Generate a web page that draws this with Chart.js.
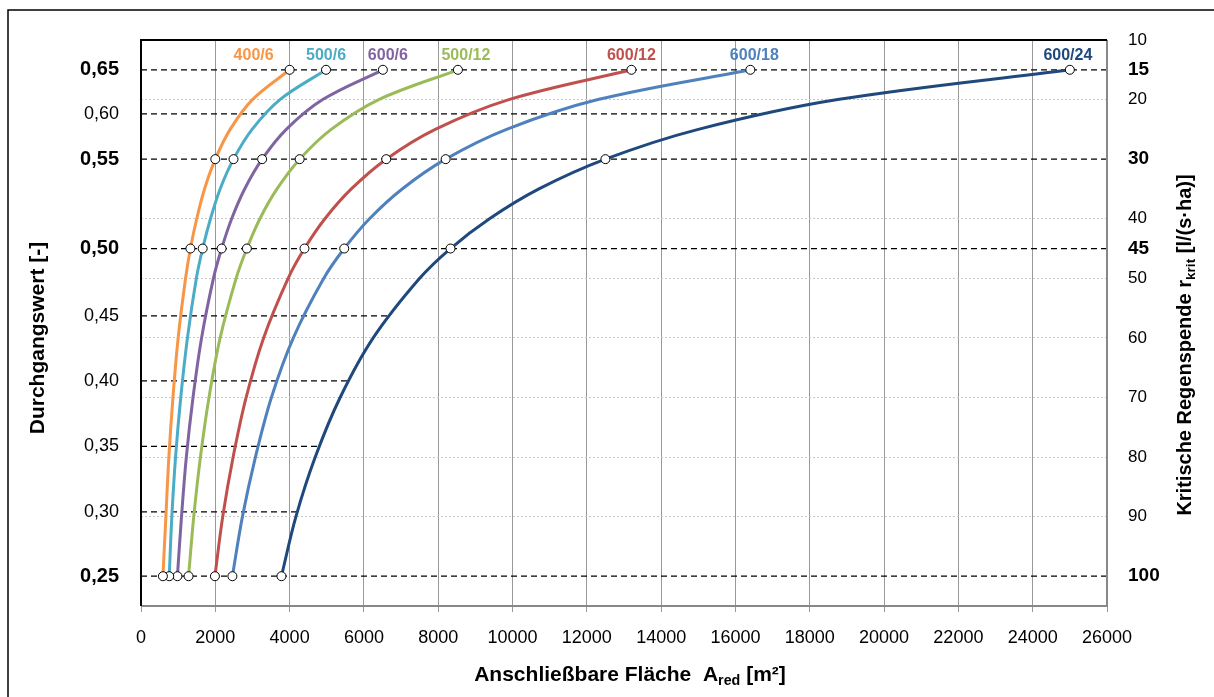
<!DOCTYPE html>
<html>
<head>
<meta charset="utf-8">
<script src="https://cdn.jsdelivr.net/npm/chart.js@4"></script>
<style>
  html, body { margin: 0; padding: 0; background: #fff; }
  #wrap { width: 1214px; height: 697px; }
</style>
</head>
<body>
<div id="wrap"><canvas id="chart" width="1214" height="697"></canvas></div>
<script>
// critical rain intensity r (right axis) used for every curve
const rVals = [15, 20, 25, 30, 35, 40, 45, 50, 60, 70, 80, 90, 100];
const markerR = [15, 30, 45, 100];

// connectable area A_red [m2], one per pipe
const seriesNames = ['400/6', '500/6', '600/6', '500/12', '600/12', '600/18', '600/24'];
const a400_6  = [4000, 3000, 2400, 2000, 1710, 1500, 1330, 1200, 1000, 860, 750, 670, 590];
const a500_6  = [4980, 3740, 2990, 2490, 2130, 1870, 1660, 1490, 1250, 1070, 930, 830, 760];
const a600_6  = [6510, 4890, 3910, 3260, 2790, 2440, 2170, 1950, 1630, 1400, 1220, 1090, 980];
const a500_12 = [8530, 6400, 5120, 4270, 3660, 3200, 2850, 2560, 2130, 1830, 1600, 1420, 1280];
const a600_12 = [13200, 9900, 7920, 6600, 5660, 4950, 4400, 3960, 3300, 2830, 2480, 2200, 1990];
const a600_18 = [16400, 12300, 9840, 8200, 7030, 6150, 5470, 4920, 4100, 3510, 3080, 2730, 2460];
const a600_24 = [25000, 18750, 15000, 12500, 10710, 9380, 8330, 7500, 6250, 5360, 4690, 4170, 3780];
const seriesData = [a400_6, a500_6, a600_6, a500_12, a600_12, a600_18, a600_24];
const seriesColors = ['#F79646', '#4BACC6', '#8064A2', '#9BBB59', '#C0504D', '#4F81BD', '#1F497D'];
const labelShift = [-36, 0, 5, 8, 0, 4, -2];

// Durchgangswert (left axis) and where it sits on the r scale
const dwLabels = ['0,65', '0,60', '0,55', '0,50', '0,45', '0,40', '0,35', '0,30', '0,25'];
const dwR      = [15, 22.4, 30, 45, 56.3, 67.2, 78.2, 89.2, 100];
const dwEnd    = [26000, 16750, 26000, 26000, 6700, 5600, 4820, 4230, 26000];
const dwBold   = ['0,65', '0,55', '0,50', '0,25'];

// right axis ticks
const rTicks = [10, 15, 20, 30, 40, 45, 50, 60, 70, 80, 90, 100];
const rBold  = [15, 30, 45, 100];

const FONT = "'Liberation Sans', Arial, sans-serif";

const datasets = [];
seriesNames.forEach((name, i) => {
    datasets.push({
        label: name,
        data: rVals.map((r, j) => ({ x: seriesData[i][j], y: r })),
        showLine: true,
        borderColor: seriesColors[i],
        borderWidth: 3,
        tension: 0.35,
        pointRadius: rVals.map(r => markerR.includes(r) ? 4.5 : 0),
        pointBackgroundColor: '#fff',
        pointBorderColor: '#000',
        pointBorderWidth: 1,
        yAxisID: 'y',
        order: 1,
        labelShift: labelShift[i],
        seriesLabel: true
    });
});
dwLabels.forEach((lab, i) => {
    datasets.push({
        label: 'dw ' + lab,
        data: [{ x: 0, y: dwR[i] }, { x: dwEnd[i], y: dwR[i] }],
        showLine: true,
        borderColor: '#000',
        borderWidth: 1.3,
        borderDash: [6, 4],
        pointRadius: 0,
        yAxisID: 'y',
        order: 2
    });
});

function drawRich(ctx, parts, size) {
    // parts: [text, isSub]
    let total = 0;
    const widths = parts.map(p => {
        ctx.font = 'bold ' + (p[1] ? size * 0.68 : size) + 'px ' + FONT;
        const w = ctx.measureText(p[0]).width;
        total += w;
        return w;
    });
    let x = -total / 2;
    parts.forEach((p, i) => {
        ctx.font = 'bold ' + (p[1] ? size * 0.68 : size) + 'px ' + FONT;
        ctx.fillText(p[0], x, p[1] ? size * 0.3 : 0);
        x += widths[i];
    });
}

const extras = {
    id: 'extras',
    afterDatasetsDraw(chart) {
        const { ctx, chartArea: a, scales } = chart;
        ctx.save();
        // plot frame
        ctx.lineWidth = 2;
        ctx.strokeStyle = '#888';
        ctx.beginPath();
        ctx.moveTo(a.left, a.bottom); ctx.lineTo(a.right, a.bottom); ctx.lineTo(a.right, a.top);
        ctx.stroke();
        ctx.strokeStyle = '#000';
        ctx.beginPath();
        ctx.moveTo(a.left, a.bottom); ctx.lineTo(a.left, a.top); ctx.lineTo(a.right, a.top);
        ctx.stroke();
        // outer frame
        ctx.lineWidth = 1.5;
        ctx.beginPath();
        ctx.moveTo(8, 697); ctx.lineTo(8, 10); ctx.lineTo(1214, 10);
        ctx.stroke();

        // series labels above the last point
        ctx.textAlign = 'center';
        ctx.textBaseline = 'middle';
        ctx.font = 'bold 16px ' + FONT;
        chart.data.datasets.forEach(ds => {
            if (!ds.seriesLabel) return;
            const p = ds.data[0];
            const x = scales.x.getPixelForValue(p.x) + ds.labelShift;
            const y = scales.y.getPixelForValue(p.y) - 14;
            ctx.fillStyle = ds.borderColor;
            ctx.fillText(ds.label, x, y);
        });

        // axis titles
        ctx.fillStyle = '#000';
        ctx.textAlign = 'left';
        ctx.textBaseline = 'middle';
        ctx.save();
        ctx.translate(630, 675);
        drawRich(ctx, [['Anschließbare Fläche  A', false], ['red', true], [' [m²]', false]], 21);
        ctx.restore();

        ctx.save();
        ctx.translate(38, 338);
        ctx.rotate(-Math.PI / 2);
        drawRich(ctx, [['Durchgangswert [-]', false]], 21);
        ctx.restore();

        ctx.save();
        ctx.translate(1185, 345);
        ctx.rotate(-Math.PI / 2);
        drawRich(ctx, [['Kritische Regenspende r', false], ['krit', true], [' [l/(s·ha)]', false]], 20);
        ctx.restore();
        ctx.restore();
    }
};

new Chart(document.getElementById('chart'), {
    type: 'scatter',
    data: { datasets },
    plugins: [extras],
    options: {
        responsive: false,
        animation: false,
        layout: { padding: { left: 10, right: 10, top: 40, bottom: 0 } },
        plugins: { legend: { display: false }, tooltip: { enabled: false } },
        scales: {
            x: {
                type: 'linear',
                min: 0,
                max: 26000,
                afterFit: s => { s.height = 91; },
                ticks: {
                    stepSize: 2000,
                    color: '#000',
                    padding: 15,
                    maxRotation: 0,
                    autoSkip: false,
                    callback: v => String(v),
                    font: { family: FONT, size: 18 }
                },
                grid: { color: '#999', lineWidth: 1, tickLength: 6 },
                border: { display: false }
            },
            y: {
                type: 'linear',
                position: 'left',
                reverse: true,
                min: 10,
                max: 105,
                afterFit: s => { s.width = 131; },
                afterBuildTicks: s => { s.ticks = dwR.map(v => ({ value: v })); },
                ticks: {
                    autoSkip: false,
                    color: '#000',
                    padding: 22,
                    callback: (v, i) => dwLabels[i],
                    font: c => dwBold.includes(dwLabels[c.index])
                        ? { family: FONT, size: 20, weight: 'bold' }
                        : { family: FONT, size: 18 }
                },
                grid: { display: false, drawTicks: false },
                border: { display: false }
            },
            y2: {
                type: 'linear',
                position: 'right',
                reverse: true,
                min: 10,
                max: 105,
                afterFit: s => { s.width = 97; },
                afterBuildTicks: s => { s.ticks = rTicks.map(v => ({ value: v })); },
                ticks: {
                    autoSkip: false,
                    color: '#000',
                    padding: 21,
                    font: c => rBold.includes(rTicks[c.index])
                        ? { family: FONT, size: 19, weight: 'bold' }
                        : { family: FONT, size: 17 }
                },
                grid: {
                    drawTicks: false,
                    lineWidth: 1,
                    color: c => (rBold.includes(c.tick.value) || c.tick.value === 10) ? 'rgba(0,0,0,0)' : '#c8c8c8'
                },
                border: { display: false, dash: [2, 2] }
            }
        }
    }
});
</script>
</body>
</html>
